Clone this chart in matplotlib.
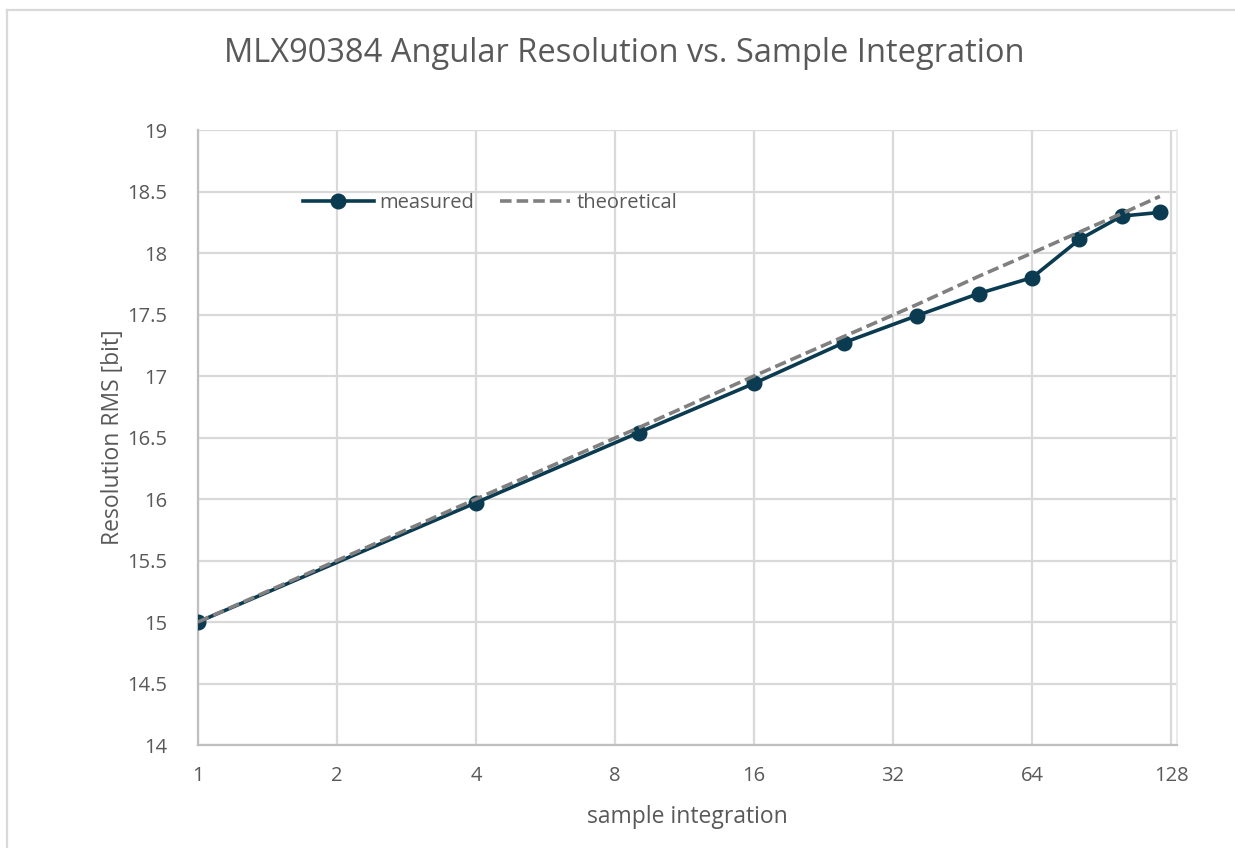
import matplotlib
matplotlib.use("Agg")
import matplotlib.pyplot as plt
from matplotlib.lines import Line2D
from matplotlib.ticker import FixedLocator, NullLocator

# ---- data ----
samples = [1, 4, 9, 16, 25, 36, 49, 64, 81, 100, 121]
measured = [15.0, 15.97, 16.54, 16.94, 17.27, 17.49, 17.67, 17.80, 18.11, 18.30, 18.33]
theoretical = [15.0, 16.0, 16.58, 17.0, 17.32, 17.58, 17.81, 18.0, 18.17, 18.32, 18.46]
x_ticks = [1, 2, 4, 8, 16, 32, 64, 128]
x_tick_labels = ["1", "2", "4", "8", "16", "32", "64", "128"]
y_ticks = [14, 14.5, 15, 15.5, 16, 16.5, 17, 17.5, 18, 18.5, 19]
y_tick_labels = ["14", "14.5", "15", "15.5", "16", "16.5", "17", "17.5", "18", "18.5", "19"]

FONT = "Open Sans"
TXT = "#595959"
GRID = "#d9d9d9"

W, H = 1235, 848
fig = plt.figure(figsize=(W / 100, H / 100), dpi=100)
fig.patch.set_facecolor("white")

ax = fig.add_axes([198 / W, (H - 745) / H, (1177 - 198) / W, (745 - 130) / H])

ax.plot(samples, measured, color="#0a3b50", lw=2.6, marker="o", ms=10.5,
        label="measured", zorder=3)
ax.plot(samples, theoretical, color="#808080", lw=2.6, dashes=(3.2, 1.4),
        label="theoretical", zorder=4)

ax.set_xscale("log", base=2)
ax.set_xlim(1, 131.8)
ax.set_ylim(14, 19)
ax.xaxis.set_major_locator(FixedLocator(x_ticks))
ax.xaxis.set_minor_locator(NullLocator())
ax.set_xticks(x_ticks)
ax.set_xticklabels(x_tick_labels)
ax.set_yticks(y_ticks)
ax.set_yticklabels(y_tick_labels)

ax.grid(True, color=GRID, lw=1.6, zorder=0)
ax.set_axisbelow(True)
ax.spines["top"].set_visible(False)
ax.spines["right"].set_color("#e8e8e8")
ax.spines["right"].set_linewidth(1.2)
ax.spines["left"].set_color("#bfbfbf")
ax.spines["bottom"].set_color("#bfbfbf")
ax.spines["left"].set_linewidth(1.6)
ax.spines["bottom"].set_linewidth(1.6)

ax.tick_params(axis="both", length=0, labelcolor=TXT, labelsize=14.5)
ax.tick_params(axis="y", pad=22)
ax.tick_params(axis="x", pad=15)
for lab in ax.get_xticklabels() + ax.get_yticklabels():
    lab.set_fontfamily(FONT)

ax.set_xlabel("sample integration", fontsize=16.5, color=TXT, family=FONT, labelpad=14)
ax.set_ylabel("Resolution RMS [bit]", fontsize=16.5, color=TXT, family=FONT, labelpad=2)

fig.text(624 / W, 1 - 53 / H, "MLX90384 Angular Resolution vs. Sample Integration",
         ha="center", va="center", fontsize=23.5, color=TXT, family=FONT)

leg = ax.legend(loc="center left", bbox_to_anchor=((285 - 198) / (1177 - 198), (745 - 203) / 615),
                ncol=2, frameon=False, handlelength=3.5, handletextpad=0.3,
                columnspacing=1.25, prop={"family": FONT, "size": 14.5})
for t in leg.get_texts():
    t.set_color(TXT)

# outer chart-area border (light grey), partially cropped in reference
fig.add_artist(Line2D([6.5 / W, 6.5 / W], [0, 1 - 10 / H], transform=fig.transFigure,
                      color=GRID, lw=1.6))
fig.add_artist(Line2D([6.5 / W, 1], [1 - 10 / H, 1 - 10 / H], transform=fig.transFigure,
                      color=GRID, lw=1.6))

fig.savefig("out.png", dpi=100, facecolor="white")
